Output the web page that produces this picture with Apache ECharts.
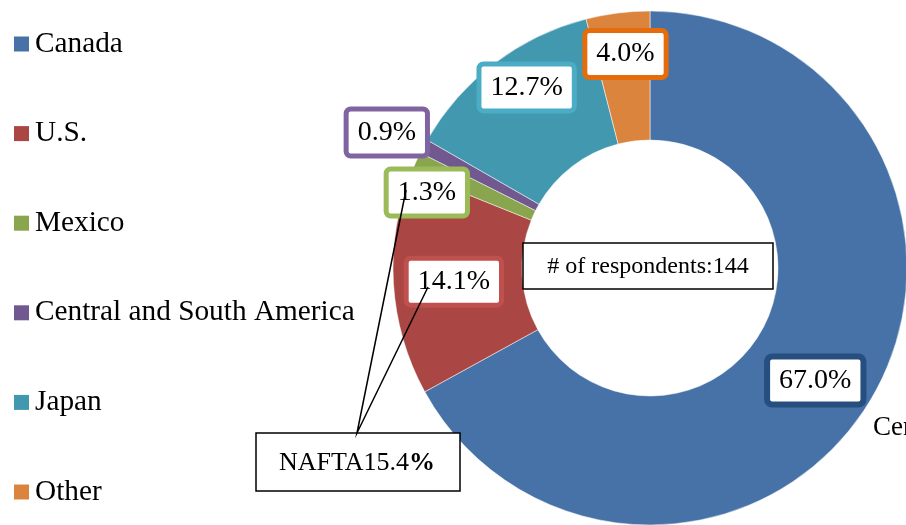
<!DOCTYPE html>
<html>
<head>
<meta charset="utf-8">
<script src="https://cdn.jsdelivr.net/npm/echarts@6/dist/echarts.min.js"></script>
<style>
  html, body { margin: 0; padding: 0; background: #fff; }
  #chart { width: 906px; height: 525px; }
</style>
</head>
<body>
<div id="chart"></div>
<script>
const regions = ['Canada', 'U.S.', 'Mexico', 'Central and South America', 'Japan', 'Other']
const shares = [67.0, 14.1, 1.3, 0.9, 12.7, 4.0]
const respondents = 144
const naftaShare = 15.4

const sliceColors = ['#4672A7', '#AA4643', '#89A54E', '#71588F', '#4198AF', '#DB843D']
const labelBorders = ['#264E7F', '#C0504D', '#9BBB59', '#8064A2', '#4BACC6', '#E46C0A']
// nudges from the default "inside" spot to where each box sits
const labelShift = [[-3, 13], [-1, 2], [-45, 5], [-91, -43], [-5, -25], [0, -20]]

const serif = '"Liberation Serif", "Times New Roman", serif'

const chart = echarts.init(document.getElementById('chart'))

chart.setOption({
  animation: false,
  color: sliceColors,
  legend: {
    orient: 'vertical',
    left: 9,
    top: 24,
    icon: 'rect',
    itemWidth: 15,
    itemHeight: 15,
    itemGap: 59.6,
    itemStyle: { borderWidth: 0 },
    textStyle: {
      fontFamily: serif,
      fontSize: 29.3,
      lineHeight: 30,
      color: '#000',
      padding: [0, 0, 0, 1]
    },
    data: regions
  },
  series: [
    {
      type: 'pie',
      center: [650, 268],
      radius: [128, 257],
      startAngle: 90,
      clockwise: true,
      silent: true,
      itemStyle: {
        borderColor: '#fff',
        borderWidth: 0.5
      },
      label: {
        show: true,
        position: 'inside',
        formatter: p => p.value.toFixed(1) + '%',
        fontFamily: serif,
        fontSize: 28,
        lineHeight: 32,
        color: '#000',
        backgroundColor: '#fff',
        borderWidth: 5,
        borderRadius: 2,
        padding: [5, 9]
      },
      labelLine: { show: false },
      labelLayout: p => ({ dx: labelShift[p.dataIndex][0], dy: labelShift[p.dataIndex][1] }),
      data: regions.map((name, i) => ({
        name: name,
        value: shares[i],
        label: {
          borderColor: labelBorders[i],
          borderWidth: i === 0 ? 6 : 5
        }
      }))
    }
  ],
  graphic: [
    {
      type: 'rect',
      z: 100,
      shape: { x: 523, y: 243, width: 250, height: 46 },
      style: { fill: '#fff', stroke: '#000', lineWidth: 1.5 }
    },
    {
      type: 'text',
      z: 101,
      x: 648,
      y: 267,
      style: {
        text: '# of respondents:' + respondents,
        fontFamily: serif,
        fontSize: 24,
        fill: '#000',
        align: 'center',
        verticalAlign: 'middle'
      }
    },
    {
      type: 'rect',
      z: 100,
      shape: { x: 256, y: 433, width: 204, height: 58 },
      style: { fill: '#fff', stroke: '#000', lineWidth: 1.5 }
    },
    {
      type: 'text',
      z: 101,
      x: 357,
      y: 463,
      style: {
        text: '{a|NAFTA' + naftaShare.toFixed(1) + '}{b|%}',
        align: 'center',
        verticalAlign: 'middle',
        rich: {
          a: { fontFamily: serif, fontSize: 26, fill: '#000' },
          b: { fontFamily: serif, fontSize: 26, fontWeight: 'bold', fill: '#000' }
        }
      }
    },
    {
      type: 'polyline',
      z: 102,
      zlevel: 1,
      shape: { points: [[406, 190], [357, 433], [428, 287]] },
      style: { stroke: '#000', lineWidth: 1.5, fill: null }
    },
    {
      type: 'text',
      z: 100,
      x: 873,
      y: 428,
      style: {
        text: 'Central and South America',
        fontFamily: serif,
        fontSize: 27,
        fill: '#000',
        verticalAlign: 'middle'
      }
    }
  ]
})
</script>
</body>
</html>
